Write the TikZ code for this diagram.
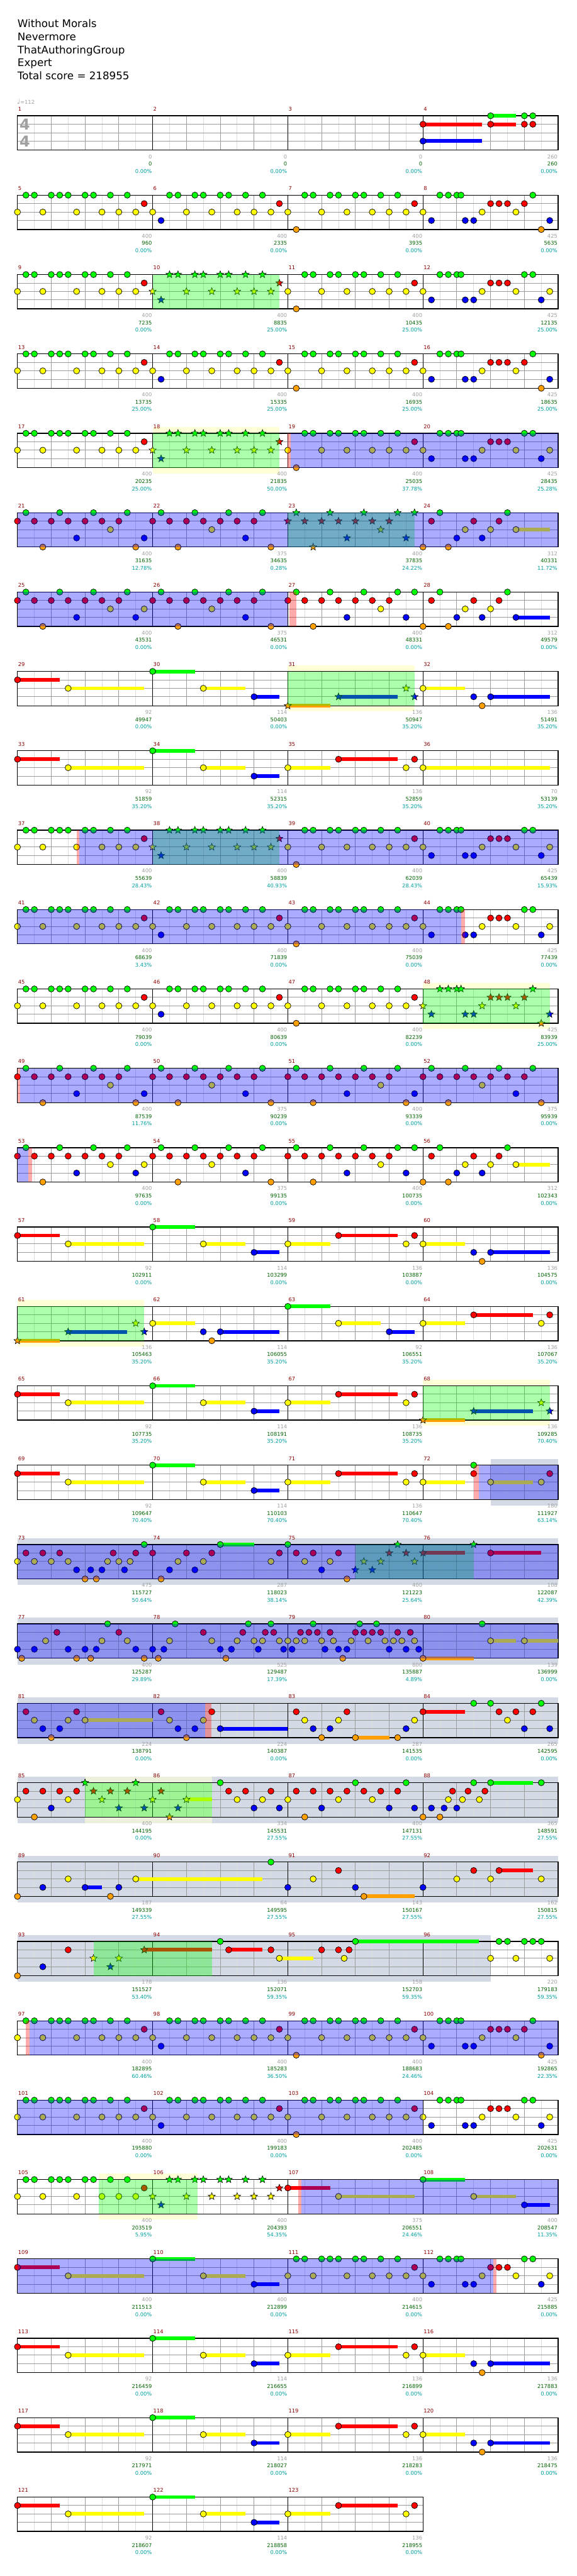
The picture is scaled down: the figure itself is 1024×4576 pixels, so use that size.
\documentclass[tikz,border=0pt]{standalone}
\usepackage{fontspec}
\setmainfont{DejaVu Sans}
\usetikzlibrary{shapes.geometric}
\definecolor{cG}{RGB}{0,255,0}
\definecolor{cR}{RGB}{255,0,0}
\definecolor{cY}{RGB}{255,255,0}
\definecolor{cB}{RGB}{0,0,255}
\definecolor{cO}{RGB}{255,160,0}
\definecolor{mnum}{RGB}{140,0,0}
\definecolor{lgray}{RGB}{160,160,160}
\definecolor{lgreen}{RGB}{0,100,0}
\definecolor{lteal}{RGB}{0,160,160}
\definecolor{gridA}{RGB}{155,155,155}
\definecolor{gridB}{RGB}{220,220,220}
\definecolor{ybg}{RGB}{255,255,215}
\definecolor{gbg}{RGB}{211,218,230}
\tikzset{
 notec/.style={draw=black,line width=0.6pt},
 starn/.style={star,star points=5,star point ratio=2.3,minimum size=10pt,inner sep=0pt,draw=black,line width=0.5pt},
 mlab/.style={font=\fontsize{7}{8}\selectfont,inner sep=0pt},
 ttl/.style={font=\fontsize{14}{16}\selectfont,inner sep=0pt,anchor=base west},
}
\newcommand\setm[1]{%
  \pgfmathtruncatemacro\mrow{(#1-1)/4}%
  \pgfmathtruncatemacro\mcol{#1-1-4*\mrow}%
  \pgfmathsetmacro\mx{31+240*\mcol}%
  \pgfmathsetmacro\my{205.7+141*\mrow}}
\newcommand\drawnote[4]{%
  \pgfmathsetmacro\nx{\mx+15*(#1)}%
  \pgfmathsetmacro\ny{\my+15*#2+(#2==4)}%
  \ifnum#4=0 \path[notec,fill=#3] (\nx,\ny) circle[radius=4.1pt];%
  \else \node[starn,fill=#3] at (\nx,\ny) {};\fi}
\newcommand\lanenotes[4]{%
  \if\relax\detokenize{#1}\relax\else
  \foreach \p in {#1}{\drawnote{\p}{#2}{#3}{#4}}\fi}
\newcommand\meas[7]{\setm{#1}%
  \lanenotes{#3}{0}{cG}{#2}\lanenotes{#4}{1}{cR}{#2}\lanenotes{#5}{2}{cY}{#2}%
  \lanenotes{#6}{3}{cB}{#2}\lanenotes{#7}{4}{cO}{#2}}
\newcommand\sus[6]{\setm{#1}%
  \pgfmathsetmacro\nx{\mx+15*(#2)}\pgfmathsetmacro\nxe{\mx+15*(#2+#3)}%
  \pgfmathsetmacro\ny{\my+15*#4+(#4==4)}%
  \fill[#5] (\nx,\ny-3.3) rectangle (\nxe,\ny+3.3);
  \drawnote{#2}{#4}{#5}{#6}}
\newcommand\ovl[5]{\setm{#1}\pgfmathsetmacro\xa{\mx+15*(#2)}%
  \setm{#3}\pgfmathsetmacro\xb{\mx+15*(#4)}%
  \fill[#5,opacity=0.33] (\xa,\my) rectangle (\xb,\my+61);}
\newcommand\ybox[4]{\setm{#1}\pgfmathsetmacro\xa{\mx+15*(#2)}%
  \setm{#3}\pgfmathsetmacro\xb{\mx+15*(#4)}%
  \fill[ybg] (\xa,\my-11) rectangle (\xb,\my+71);}
\newcommand\yboxT[4]{\setm{#1}\pgfmathsetmacro\xa{\mx+15*(#2)}%
  \setm{#3}\pgfmathsetmacro\xb{\mx+15*(#4)}%
  \fill[ybg,opacity=0.6] (\xa,\my-11) rectangle (\xb,\my+72);}
\newcommand\gbox[4]{\setm{#1}\pgfmathsetmacro\xa{\mx+15*(#2)}%
  \setm{#3}\pgfmathsetmacro\xb{\mx+15*(#4)}%
  \fill[gbg] (\xa,\my-11) rectangle (\xb,\my+72);}
\newcommand\sfill[2]{%
  \pgfmathsetmacro\ty{205.7+141*#1}\pgfmathsetmacro\xe{31+240*#2}%
  \fill[white] (31,\ty) rectangle (\xe,\ty+61);}
\newcommand\sgrid[2]{%
  \pgfmathsetmacro\ty{205.7+141*#1}\pgfmathsetmacro\xe{31+240*#2}%
  \pgfmathtruncatemacro\nl{8*#2-1}\pgfmathtruncatemacro\nb{4*#2-1}%
  \foreach \k in {1,3,...,\nl}{\draw[gridB,line width=0.75pt] (31+30*\k,\ty) -- (31+30*\k,\ty+61);}
  \foreach \k in {1,...,\nb}{\draw[gridA,line width=0.75pt] (31+60*\k,\ty) -- (31+60*\k,\ty+61);}
  \foreach \k in {15,30,45}{\draw[gridA,line width=0.75pt] (31,\ty+\k) -- (\xe,\ty+\k);}
  \foreach \k in {1,...,#2}{\draw[black,line width=0.8pt] (31+240*\k,\ty) -- (31+240*\k,\ty+61);}
  \draw[black,line width=1.1pt] (31,\ty) rectangle (\xe,\ty+61);}
\newcommand\staff[2]{\sfill{#1}{#2}\sgrid{#1}{#2}}
\newcommand\lbl[4]{\setm{#1}%
  \node[mlab,text=lgray,anchor=east] at (\mx+239,\my+72.5) {#2};
  \node[mlab,text=lgreen,anchor=east] at (\mx+239,\my+85.5) {#3};
  \node[mlab,text=lteal,anchor=east] at (\mx+239,\my+98.5) {#4};}
% repeating note patterns
\newcommand\PtA[2]{\meas{#1}{#2}{1,2,4,5,6,8,9,11,13}{15}{0,3,7,10,12,14}{}{}}
\newcommand\PtB[2]{\meas{#1}{#2}{2,3,5,6,8,9,11,13}{15}{0,4,7,10,12,14}{1}{}}
\newcommand\PtC[2]{\meas{#1}{#2}{2,3,5,6,8,9,11,13}{15}{0,4,7,10,12,14}{}{1}}
\newcommand\PtD[2]{\meas{#1}{#2}{2,3,4,4.5,13}{8,9,10,12}{0,7,11}{1,5,6,15}{14}}
\newcommand\PtE[2]{\meas{#1}{#2}{2,3,4,4.5,12,13}{8,9,10}{0,7,11,15}{1,5,6,14}{}}
\newcommand\QtA[1]{\meas{#1}{0}{1,5,9,13}{0,2,4,6,8,10,12}{11}{7,15}{3,14}}
\newcommand\QtB[1]{\meas{#1}{0}{1,5,9,13}{0,2,4,6,8,10,12}{7}{11}{3,14}}
\newcommand\QtC[2]{\meas{#1}{#2}{1,5,9,13,15}{0,2,4,6,8,10,12}{11}{7,14}{3}}
\newcommand\SuA[1]{\sus{#1}{0}{5}{1}{cR}{0}\sus{#1}{6}{9}{2}{cY}{0}}
\newcommand\SuB[1]{\sus{#1}{0}{5}{0}{cG}{0}\sus{#1}{6}{5}{2}{cY}{0}\sus{#1}{12}{3}{3}{cB}{0}}
\newcommand\SuC[1]{\sus{#1}{0}{5}{2}{cY}{0}\sus{#1}{6}{7}{1}{cR}{0}\meas{#1}{0}{}{15}{14}{}{}}
\newcommand\SuD[1]{\sus{#1}{0}{5}{2}{cY}{0}\sus{#1}{8}{7}{3}{cB}{0}\meas{#1}{0}{}{}{}{6}{7}}
\newcommand\SuS[1]{\sus{#1}{0}{5}{4}{cO}{1}\sus{#1}{6}{7}{3}{cB}{1}\meas{#1}{1}{}{}{14}{15}{}}
\begin{document}
\begin{tikzpicture}[x=0.75pt,y=-0.75pt]
\useasboundingbox[fill=white] (0,0) rectangle (1024,4576);
% title
\node[ttl] (t1) at (31,49) {Without Morals};
\node[ttl] (t2) at (31,72) {Nevermore};
\node[ttl] (t3) at (31,95) {ThatAuthoringGroup};
\node[ttl] (t4) at (31,118) {Expert};
\node[ttl] (t5) at (31,141) {Total score = 218955};
\node[mlab,text=lgray,anchor=west] (tempo) at (30,181) {\fontsize{9}{9}\selectfont♩\fontsize{7}{8}\selectfont=112};
% ===== row 0
\staff{0}{4}
\node[text=lgray,font=\fontsize{20}{20}\selectfont\bfseries,inner sep=0pt] (ts1) at (44,220.7) {4};
\node[text=lgray,font=\fontsize{20}{20}\selectfont\bfseries,inner sep=0pt] (ts2) at (44,250.7) {4};
\sus{4}{8}{3}{0}{cG}{0}\sus{4}{0}{7}{1}{cR}{0}\sus{4}{8}{3}{1}{cR}{0}\sus{4}{0}{7}{3}{cB}{0}
\meas{4}{0}{12,13}{12,13}{}{}{}
\lbl{1}{0}{0}{0.00\%}\lbl{2}{0}{0}{0.00\%}\lbl{3}{0}{0}{0.00\%}\lbl{4}{260}{260}{0.00\%}
% ===== row 1
\staff{1}{4}
\PtA{5}{0}\PtB{6}{0}\PtC{7}{0}\PtD{8}{0}
\lbl{5}{400}{960}{0.00\%}\lbl{6}{400}{2335}{0.00\%}\lbl{7}{400}{3935}{0.00\%}\lbl{8}{425}{5635}{0.00\%}
% ===== row 2
\staff{2}{4}
\PtA{9}{0}\PtB{10}{1}\PtC{11}{0}\PtE{12}{0}
\ovl{10}{0}{10}{15}{cG}
\lbl{9}{400}{7235}{0.00\%}\lbl{10}{400}{8835}{25.00\%}\lbl{11}{400}{10435}{25.00\%}\lbl{12}{425}{12135}{25.00\%}
% ===== row 3
\staff{3}{4}
\PtA{13}{0}\PtB{14}{0}\PtC{15}{0}\PtD{16}{0}
\lbl{13}{400}{13735}{25.00\%}\lbl{14}{400}{15335}{25.00\%}\lbl{15}{400}{16935}{25.00\%}\lbl{16}{425}{18635}{25.00\%}
% ===== row 4
\ybox{18}{0}{18}{15}
\staff{4}{4}
\PtA{17}{0}\PtB{18}{1}\PtC{19}{0}\PtE{20}{0}
\ovl{18}{0}{18}{15}{cG}\ovl{19}{0}{19}{0.33}{cR}\ovl{19}{0.33}{20}{16}{cB}
\lbl{17}{400}{20235}{25.00\%}\lbl{18}{400}{21835}{50.00\%}\lbl{19}{400}{25035}{37.78\%}\lbl{20}{425}{28435}{25.28\%}
% ===== row 5
\staff{5}{4}
\QtA{21}\QtB{22}\QtC{23}{1}
\sus{24}{11}{4}{2}{cY}{0}
\meas{24}{0}{2,10}{1,6,9}{5,8}{4,7}{0,3}
\ovl{23}{0}{23}{15}{cG}\ovl{21}{0}{24}{16}{cB}
\lbl{21}{400}{31635}{12.78\%}\lbl{22}{375}{34635}{0.28\%}\lbl{23}{400}{37835}{24.22\%}\lbl{24}{312}{40331}{11.72\%}
% ===== row 6
\staff{6}{4}
\meas{25}{0}{1,5,9,13}{0,2,4,6,8,10,12}{11,15}{7,14}{3}
\QtB{26}\QtC{27}{0}
\sus{28}{11}{4}{3}{cB}{0}
\meas{28}{0}{2,10}{1,6,9}{5,8}{4,7}{0,3}
\ovl{25}{0}{26}{16}{cB}\ovl{27}{0.2}{27}{1}{cR}
\lbl{25}{400}{43531}{0.00\%}\lbl{26}{375}{46531}{0.00\%}\lbl{27}{400}{48331}{0.00\%}\lbl{28}{312}{49579}{0.00\%}
% ===== row 7
\ybox{31}{0}{31}{15}
\staff{7}{4}
\SuA{29}\SuB{30}\SuS{31}\SuD{32}
\ovl{31}{0}{31}{15}{cG}
\lbl{29}{92}{49947}{0.00\%}\lbl{30}{114}{50403}{0.00\%}\lbl{31}{136}{50947}{35.20\%}\lbl{32}{136}{51491}{35.20\%}
% ===== row 8
\staff{8}{4}
\SuA{33}\SuB{34}\SuC{35}\sus{36}{0}{15}{2}{cY}{0}
\lbl{33}{92}{51859}{35.20\%}\lbl{34}{114}{52315}{35.20\%}\lbl{35}{136}{52859}{35.20\%}\lbl{36}{70}{53139}{35.20\%}
% ===== row 9
\staff{9}{4}
\PtA{37}{0}\PtB{38}{1}\PtC{39}{0}\PtE{40}{0}
\ovl{38}{0}{38}{15}{cG}\ovl{37}{7}{37}{7.3}{cR}\ovl{37}{7.3}{40}{16}{cB}
\lbl{37}{400}{55639}{28.43\%}\lbl{38}{400}{58839}{40.93\%}\lbl{39}{400}{62039}{28.43\%}\lbl{40}{425}{65439}{15.93\%}
% ===== row 10
\staff{10}{4}
\PtA{41}{0}\PtB{42}{0}\PtC{43}{0}\PtE{44}{0}
\ovl{41}{0}{44}{4.5}{cB}\ovl{44}{4.5}{44}{5}{cR}
\lbl{41}{400}{68639}{3.43\%}\lbl{42}{400}{71839}{0.00\%}\lbl{43}{400}{75039}{0.00\%}\lbl{44}{425}{77439}{0.00\%}
% ===== row 11
\ybox{48}{0}{48}{15}
\staff{11}{4}
\PtA{45}{0}\PtB{46}{0}\PtC{47}{0}\PtD{48}{1}
\ovl{48}{0}{48}{15}{cG}
\lbl{45}{400}{79039}{0.00\%}\lbl{46}{400}{80639}{0.00\%}\lbl{47}{400}{82239}{0.00\%}\lbl{48}{425}{83939}{25.00\%}
% ===== row 12
\staff{12}{4}
\QtA{49}\QtB{50}\QtA{51}\QtB{52}
\ovl{49}{0}{49}{0.3}{cR}\ovl{49}{0.3}{52}{16}{cB}
\lbl{49}{400}{87539}{11.76\%}\lbl{50}{375}{90239}{0.00\%}\lbl{51}{400}{93339}{0.00\%}\lbl{52}{375}{95939}{0.00\%}
% ===== row 13
\staff{13}{4}
\meas{53}{0}{1,5,9,13}{0,2,4,6,8,10,12}{11,15}{7,14}{3}
\QtB{54}\QtC{55}{0}
\sus{56}{11}{4}{2}{cY}{0}
\meas{56}{0}{2,10}{1,6,9}{5,8}{4,7}{0,3}
\ovl{53}{0}{53}{1.3}{cB}\ovl{53}{1.3}{53}{1.7}{cR}
\lbl{53}{400}{97635}{0.00\%}\lbl{54}{375}{99135}{0.00\%}\lbl{55}{400}{100735}{0.00\%}\lbl{56}{312}{102343}{0.00\%}
% ===== row 14
\staff{14}{4}
\SuA{57}\SuB{58}\SuC{59}\SuD{60}
\lbl{57}{92}{102911}{0.00\%}\lbl{58}{114}{103299}{0.00\%}\lbl{59}{136}{103887}{0.00\%}\lbl{60}{136}{104575}{0.00\%}
% ===== row 15
\ybox{61}{0}{61}{15}
\staff{15}{4}
\SuS{61}\SuD{62}\SuB{63}\SuC{64}
\ovl{61}{0}{61}{15}{cG}
\lbl{61}{136}{105463}{35.20\%}\lbl{62}{114}{106055}{35.20\%}\lbl{63}{92}{106551}{35.20\%}\lbl{64}{136}{107067}{35.20\%}
% ===== row 16
\ybox{68}{0}{68}{15}
\staff{16}{4}
\SuA{65}\SuB{66}\SuC{67}\SuS{68}
\ovl{68}{0}{68}{15}{cG}
\lbl{65}{92}{107735}{35.20\%}\lbl{66}{114}{108191}{35.20\%}\lbl{67}{136}{108735}{35.20\%}\lbl{68}{136}{109285}{70.40\%}
% ===== row 17
\sfill{17}{4}\gbox{72}{8}{72}{16}\sgrid{17}{4}
\SuA{69}\SuB{70}\SuC{71}
\sus{72}{0}{5}{2}{cY}{0}\sus{72}{8}{5}{2}{cY}{0}\meas{72}{0}{6}{6,15}{14}{}{}
\ovl{72}{6}{72}{6.6}{cR}\ovl{72}{6.6}{72}{16}{cB}
\lbl{69}{92}{109647}{70.40\%}\lbl{70}{114}{110103}{70.40\%}\lbl{71}{136}{110647}{70.40\%}\lbl{72}{180}{111927}{63.14\%}
% ===== row 18
\sfill{18}{4}\gbox{73}{0}{76}{16}\sgrid{18}{4}
\meas{73}{0}{15}{1,3,5,11.33,14}{0,2,4,6,10.67,12,13.33}{7,8.67,10,12.67}{8,9.33}
\sus{74}{8}{4}{0}{cG}{0}
\meas{74}{0}{}{0,4,7,15}{3,6,14}{2,5}{1}
\meas{75}{0}{0}{1,3,6}{2,5}{4}{7}
\meas{75}{1}{13}{12,14}{9,11,15}{8,10}{}
\sus{76}{0}{5}{1}{cR}{1}\sus{76}{8}{6}{1}{cR}{0}
\meas{76}{1}{6}{}{}{}{}
\ovl{75}{8}{76}{6}{cG}\ovl{73}{0}{76}{16}{cB}
\lbl{73}{475}{115727}{50.64\%}\lbl{74}{287}{118023}{38.14\%}\lbl{75}{400}{121223}{25.64\%}\lbl{76}{108}{122087}{42.39\%}
% ===== row 19
\sfill{19}{4}\gbox{77}{0}{80}{16}\sgrid{19}{4}
\meas{77}{0}{10.67}{4.67,12}{3.33,10,13}{0,2,6,8,9.33,14}{0.5,7,8.67,15}
\meas{78}{0}{2.67,11.33,14}{6,10.67,13.33,14.33}{2,7,10,12,13,15}{0,1.33,8,9.33,12.5,15.5}{0.67,8.67}
\meas{79}{0}{3,8.5,10.5}{1.5,2.5,3.5,5,8,9,10,11,13,14.5}{0,1,2,4,5.4,7.5,9.5,11.5,12.5,13.5,15}{0.5,4.4,6,7,12,14,15.5}{6.5}
\sus{80}{0}{6}{4}{cO}{0}\sus{80}{8}{3}{2}{cY}{0}\sus{80}{12}{4}{2}{cY}{0}\meas{80}{0}{7}{}{}{}{}
\ovl{77}{0}{80}{16}{cB}
\lbl{77}{400}{125287}{29.89\%}\lbl{78}{525}{129487}{17.39\%}\lbl{79}{800}{135887}{4.89\%}\lbl{80}{139}{136999}{0.00\%}
% ===== row 20
\sfill{20}{4}\gbox{81}{0}{84}{16}\sgrid{20}{4}
\sus{81}{8}{8}{2}{cY}{0}\meas{81}{0}{}{1,7}{2,6}{3,5}{4}
\sus{82}{8}{8}{3}{cB}{0}\meas{82}{0}{}{1,7}{2,6}{3,5}{4}
\sus{83}{8}{4}{4}{cO}{0}\meas{83}{0}{}{1,7}{2,6,15}{3,5,14}{4,13}
\sus{84}{0}{5}{1}{cR}{0}\meas{84}{0}{6,8,14}{9,11,13}{10}{12,15}{}
\ovl{81}{0}{82}{6.25}{cB}\ovl{82}{6.25}{82}{6.95}{cR}
\lbl{81}{224}{138791}{0.00\%}\lbl{82}{224}{140387}{0.00\%}\lbl{83}{287}{141535}{0.00\%}\lbl{84}{265}{142595}{0.00\%}
% ===== row 21
\sfill{21}{4}\gbox{85}{0}{88}{16}\yboxT{85}{8}{86}{7}\sgrid{21}{4}
\meas{85}{0}{}{1,3,5,7}{0,6}{4}{2}
\meas{85}{1}{8,14}{9,11,13}{10}{12,15}{}
\sus{86}{4}{3}{2}{cY}{1}
\meas{86}{1}{}{1}{0}{3}{2}
\meas{86}{0}{8}{9,11,14}{10,13}{12,15}{}
\meas{87}{0}{8,14}{1,3,5,7,9,11,13}{0,6,10}{4,12,15}{2}
\sus{88}{8}{5}{0}{cG}{0}
\meas{88}{0}{6,14}{3.5,5.33,7.33}{3,4.67,6.67}{1,2.5,4}{0,2}
\ovl{85}{8}{86}{7}{cG}
\lbl{85}{400}{144195}{0.00\%}\lbl{86}{334}{145531}{27.55\%}\lbl{87}{400}{147131}{27.55\%}\lbl{88}{365}{148591}{27.55\%}
% ===== row 22
\sfill{22}{4}\gbox{89}{0}{92}{16}\sgrid{22}{4}
\sus{89}{8}{2}{3}{cB}{0}\sus{89}{14}{15}{2}{cY}{0}
\meas{89}{0}{}{}{6}{3,12}{0,11}
\meas{90}{0}{14}{}{}{}{}
\sus{91}{9}{6}{4}{cO}{0}
\meas{91}{0}{}{6}{3}{0,8}{}
\sus{92}{9}{4}{1}{cR}{0}
\meas{92}{0}{}{6}{4,8,14}{0}{}
\lbl{89}{187}{149339}{27.55\%}\lbl{90}{64}{149595}{27.55\%}\lbl{91}{143}{150167}{27.55\%}\lbl{92}{162}{150815}{27.55\%}
% ===== row 23
\sfill{23}{4}\gbox{93}{0}{96}{8}\sgrid{23}{4}
\meas{93}{0}{}{6}{}{3}{0}
\meas{93}{1}{}{}{9,12}{11}{}
\sus{93}{15}{8}{1}{cR}{1}
\sus{94}{9}{4}{1}{cR}{0}\sus{94}{15}{4}{2}{cY}{0}
\meas{94}{0}{8}{14}{}{}{}
\sus{95}{8}{14.6}{0}{cG}{0}
\meas{95}{0}{}{4,6,7.25}{6.67}{}{}
\meas{96}{0}{9,10,12,13,14}{}{8,11,15}{}{}
\ovl{93}{9}{94}{7}{cG}
\lbl{93}{178}{151527}{53.40\%}\lbl{94}{136}{152071}{59.35\%}\lbl{95}{158}{152703}{59.35\%}\lbl{96}{220}{179183}{59.35\%}
% ===== row 24
\staff{24}{4}
\PtA{97}{0}\PtB{98}{0}\PtC{99}{0}\PtD{100}{0}
\ovl{97}{1}{97}{1.4}{cR}\ovl{97}{1.4}{100}{16}{cB}
\lbl{97}{400}{182895}{60.46\%}\lbl{98}{400}{185283}{36.50\%}\lbl{99}{400}{188683}{24.46\%}\lbl{100}{425}{192865}{22.35\%}
% ===== row 25
\staff{25}{4}
\PtA{101}{0}\PtB{102}{0}\PtC{103}{0}\PtE{104}{0}
\ovl{101}{0}{103}{16}{cB}
\lbl{101}{400}{195880}{0.00\%}\lbl{102}{400}{199183}{0.00\%}\lbl{103}{400}{202485}{0.00\%}\lbl{104}{425}{202631}{0.00\%}
% ===== row 26
\ybox{105}{9.6}{106}{5.3}
\staff{26}{4}
\PtA{105}{0}\PtB{106}{1}\SuA{107}\SuB{108}
\ovl{105}{9.6}{106}{5.3}{cG}\ovl{107}{1.2}{107}{1.6}{cR}\ovl{107}{1.6}{108}{16}{cB}
\lbl{105}{400}{203519}{5.95\%}\lbl{106}{400}{204393}{54.35\%}\lbl{107}{375}{206551}{24.46\%}\lbl{108}{400}{208547}{11.35\%}
% ===== row 27
\staff{27}{4}
\SuA{109}\SuB{110}\PtA{111}{0}\PtE{112}{0}
\ovl{109}{0}{112}{8.3}{cB}\ovl{112}{8.3}{112}{8.7}{cR}
\lbl{109}{400}{211513}{0.00\%}\lbl{110}{400}{212899}{0.00\%}\lbl{111}{400}{214615}{0.00\%}\lbl{112}{425}{215885}{0.00\%}
% ===== row 28
\staff{28}{4}
\SuA{113}\SuB{114}\SuC{115}\SuD{116}
\lbl{113}{92}{216459}{0.00\%}\lbl{114}{114}{216655}{0.00\%}\lbl{115}{136}{216899}{0.00\%}\lbl{116}{136}{217883}{0.00\%}
% ===== row 29
\staff{29}{4}
\SuA{117}\SuB{118}\SuC{119}\SuD{120}
\lbl{117}{92}{217971}{0.00\%}\lbl{118}{114}{218027}{0.00\%}\lbl{119}{136}{218283}{0.00\%}\lbl{120}{136}{218475}{0.00\%}
% ===== row 30
\staff{30}{3}
\SuA{121}\SuB{122}\SuC{123}
\lbl{121}{92}{218607}{0.00\%}\lbl{122}{114}{218858}{0.00\%}\lbl{123}{136}{218955}{0.00\%}
% measure numbers
\foreach \m in {1,...,123}{\setm{\m}\node[mlab,text=mnum,anchor=west] (mn\m) at (\mx+1,\my-12) {\m};}
\end{tikzpicture}
\end{document}
